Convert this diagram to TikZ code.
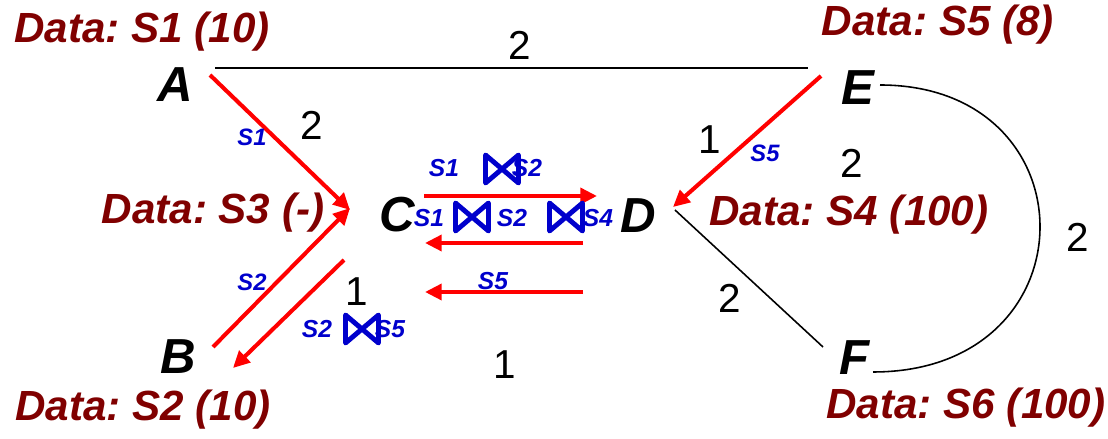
\documentclass[tikz,border=0pt]{standalone}
\usepackage{fontspec}
\setmainfont{Liberation Sans}
\usepackage{xcolor}
\usetikzlibrary{arrows.meta}
\definecolor{datared}{RGB}{128,0,0}
\definecolor{flowred}{RGB}{255,0,0}
\definecolor{relblue}{RGB}{0,0,204}
\frenchspacing

\begin{document}
\begin{tikzpicture}[>={Triangle[length=9.5pt,width=9pt]},
  vtx/.style={font=\fontsize{28}{28}\selectfont\bfseries\itshape,inner sep=0pt},
  data/.style={datared,font=\fontsize{24}{24}\selectfont\bfseries\itshape,inner sep=0pt},
  wt/.style={font=\fontsize{23}{23}\selectfont,inner sep=0pt},
  rel/.style={relblue,font=\fontsize{14}{14}\selectfont\bfseries\itshape,inner sep=0pt},
  tag/.style={relblue,font=\fontsize{13.5}{13.5}\selectfont\bfseries\itshape,inner sep=0pt},
  flow/.style={->,flowred,line width=2.3pt},
  link/.style={black,line width=0.9pt},
  jn/.pic={\draw[relblue,line width=2.8pt,line join=round]
    (-0.33,0.28)--(-0.33,-0.28)--(0.33,0.28)--(0.33,-0.28)--cycle;}]
  \useasboundingbox (0,0) rectangle (22.16,8.78);

  % sites
  \node[vtx] (A) at (3.50,7.08) {A};
  \node[vtx] (B) at (3.56,1.64) {B};
  \node[vtx] (C) at (7.94,4.48) {C};
  \node[vtx] (D) at (12.76,4.46) {D};
  \node[vtx] (E) at (17.16,7.02) {E};
  \node[vtx] (F) at (17.10,1.62) {F};

  % stored data
  \node[data] (dA) at (2.84,8.14) {Data: S1 (10)};
  \node[data] (dE) at (18.76,8.28) {Data: S5 (8)};
  \node[data] (dC) at (4.26,4.52) {Data: S3 (-)};
  \node[data] (dD) at (16.98,4.48) {Data: S4 (100)};
  \node[data] (dB) at (2.86,0.58) {Data: S2 (10)};
  \node[data] (dF) at (19.32,0.62) {Data: S6 (100)};

  % network links
  \coordinate (ae) at (4.30,7.42); \coordinate (ea) at (16.16,7.42);
  \coordinate (ef) at (17.60,7.08); \coordinate (fe) at (17.46,1.34);
  \coordinate (df) at (13.50,4.58); \coordinate (fd) at (16.46,1.84);
  \draw[link] (ae) -- (ea);
  \draw[link] (ef) .. controls (21.89,7.08) and (21.89,1.34) .. (fe);
  \draw[link] (df) -- (fd);

  % link costs
  \node[wt] (wAE) at (10.40,7.88) {2};
  \node[wt] (wAC) at (6.24,6.28) {2};
  \node[wt] (wDE) at (14.20,5.98) {1};
  \node[wt] (wED) at (17.04,5.52) {2};
  \node[wt] (wEF) at (21.56,4.04) {2};
  \node[wt] (wBC) at (7.14,2.94) {1};
  \node[wt] (wDF) at (14.60,2.82) {2};
  \node[wt] (wCD) at (10.10,1.48) {1};

  % shipped relations
  \coordinate (a1) at (4.20,7.28); \coordinate (c1) at (7.00,4.58);
  \coordinate (b2) at (4.26,1.84); \coordinate (c2) at (7.00,4.62);
  \coordinate (c3) at (6.88,3.58); \coordinate (b3) at (4.66,1.42);
  \coordinate (c4) at (8.48,4.86); \coordinate (d4) at (11.94,4.86);
  \coordinate (d5) at (11.66,3.92); \coordinate (c5) at (8.50,3.92);
  \coordinate (d6) at (11.66,2.94); \coordinate (c6) at (8.50,2.94);
  \coordinate (e7) at (16.42,7.26); \coordinate (d7) at (13.46,4.64);
  \draw[flow] (a1) -- (c1);
  \draw[flow] (b2) -- (c2);
  \draw[flow] (c3) -- (b3);
  \draw[flow] (c4) -- (d4);
  \draw[flow] (d5) -- (c5);
  \draw[flow] (d6) -- (c6);
  \draw[flow] (e7) -- (d7);

  \node[tag] (tAC) at (5.04,6.04) {S1};
  \node[tag] (tBC) at (5.04,3.14) {S2};
  \node[tag] (tED) at (15.30,5.72) {S5};

  \node[rel] (r1) at (8.88,5.42) {S1};
  \pic at (10.04,5.40) {jn};
  \node[rel] (r2) at (10.54,5.42) {S2};
  \node[rel] (r3) at (8.58,4.42) {S1};
  \pic at (9.44,4.44) {jn};
  \node[rel] (r4) at (10.24,4.42) {S2};
  \pic at (11.32,4.44) {jn};
  \node[rel] (r5) at (11.96,4.42) {S4};
  \node[rel] (r6) at (9.86,3.16) {S5};
  \node[rel] (r7) at (6.34,2.20) {S2};
  \pic at (7.24,2.20) {jn};
  \node[rel] (r8) at (7.80,2.20) {S5};
\end{tikzpicture}
\end{document}
